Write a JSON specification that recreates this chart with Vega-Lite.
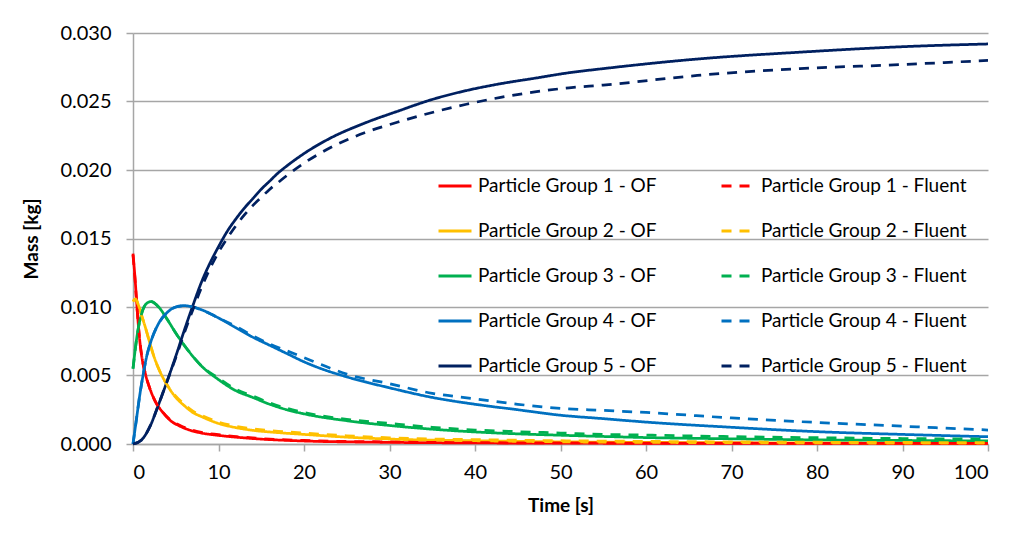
{
  "$schema": "https://vega.github.io/schema/vega-lite/v6.json",
  "width": 855,
  "height": 411,
  "autosize": {"type": "none"},
  "padding": {"left": 133, "top": 33, "right": 21, "bottom": 90},
  "background": "white",
  "config": {
    "font": "Lato",
    "view": {"stroke": null},
    "axis": {"labelFont": "Lato", "titleFont": "Lato", "labelColor": "#000000", "titleColor": "#000000"}
  },
  "data": {
    "values": [
      {"t": 0, "s": "Particle Group 1 - OF", "m": 0.0139},
      {"t": 0.25, "s": "Particle Group 1 - OF", "m": 0.0120},
      {"t": 0.5, "s": "Particle Group 1 - OF", "m": 0.0097},
      {"t": 0.75, "s": "Particle Group 1 - OF", "m": 0.0078},
      {"t": 1, "s": "Particle Group 1 - OF", "m": 0.0065},
      {"t": 1.5, "s": "Particle Group 1 - OF", "m": 0.0050},
      {"t": 2, "s": "Particle Group 1 - OF", "m": 0.0040},
      {"t": 2.7, "s": "Particle Group 1 - OF", "m": 0.0030},
      {"t": 3.5, "s": "Particle Group 1 - OF", "m": 0.0023},
      {"t": 4.3, "s": "Particle Group 1 - OF", "m": 0.00175},
      {"t": 5.5, "s": "Particle Group 1 - OF", "m": 0.0013},
      {"t": 6.7, "s": "Particle Group 1 - OF", "m": 0.0010},
      {"t": 8, "s": "Particle Group 1 - OF", "m": 0.0008},
      {"t": 10, "s": "Particle Group 1 - OF", "m": 0.00063},
      {"t": 14, "s": "Particle Group 1 - OF", "m": 0.0004},
      {"t": 20, "s": "Particle Group 1 - OF", "m": 0.00022},
      {"t": 30, "s": "Particle Group 1 - OF", "m": 0.00012},
      {"t": 40, "s": "Particle Group 1 - OF", "m": 0.00008},
      {"t": 60, "s": "Particle Group 1 - OF", "m": 0.00005},
      {"t": 80, "s": "Particle Group 1 - OF", "m": 0.00004},
      {"t": 100, "s": "Particle Group 1 - OF", "m": 0.00003},

      {"t": 0, "s": "Particle Group 2 - OF", "m": 0.0104},
      {"t": 0.3, "s": "Particle Group 2 - OF", "m": 0.0106},
      {"t": 0.6, "s": "Particle Group 2 - OF", "m": 0.0102},
      {"t": 1, "s": "Particle Group 2 - OF", "m": 0.0094},
      {"t": 1.5, "s": "Particle Group 2 - OF", "m": 0.0084},
      {"t": 2, "s": "Particle Group 2 - OF", "m": 0.0073},
      {"t": 2.5, "s": "Particle Group 2 - OF", "m": 0.0063},
      {"t": 3, "s": "Particle Group 2 - OF", "m": 0.0055},
      {"t": 4, "s": "Particle Group 2 - OF", "m": 0.0043},
      {"t": 5, "s": "Particle Group 2 - OF", "m": 0.0034},
      {"t": 6, "s": "Particle Group 2 - OF", "m": 0.0028},
      {"t": 7, "s": "Particle Group 2 - OF", "m": 0.0023},
      {"t": 8, "s": "Particle Group 2 - OF", "m": 0.0020},
      {"t": 10, "s": "Particle Group 2 - OF", "m": 0.0015},
      {"t": 12, "s": "Particle Group 2 - OF", "m": 0.0012},
      {"t": 14, "s": "Particle Group 2 - OF", "m": 0.0010},
      {"t": 17, "s": "Particle Group 2 - OF", "m": 0.00083},
      {"t": 20, "s": "Particle Group 2 - OF", "m": 0.0007},
      {"t": 25, "s": "Particle Group 2 - OF", "m": 0.0005},
      {"t": 30, "s": "Particle Group 2 - OF", "m": 0.00036},
      {"t": 40, "s": "Particle Group 2 - OF", "m": 0.00024},
      {"t": 50, "s": "Particle Group 2 - OF", "m": 0.00016},
      {"t": 60, "s": "Particle Group 2 - OF", "m": 0.00012},
      {"t": 80, "s": "Particle Group 2 - OF", "m": 0.00008},
      {"t": 100, "s": "Particle Group 2 - OF", "m": 0.00006},

      {"t": 0, "s": "Particle Group 3 - OF", "m": 0.0055},
      {"t": 0.5, "s": "Particle Group 3 - OF", "m": 0.0080},
      {"t": 1, "s": "Particle Group 3 - OF", "m": 0.0095},
      {"t": 1.5, "s": "Particle Group 3 - OF", "m": 0.0102},
      {"t": 2.1, "s": "Particle Group 3 - OF", "m": 0.0104},
      {"t": 3, "s": "Particle Group 3 - OF", "m": 0.0100},
      {"t": 4, "s": "Particle Group 3 - OF", "m": 0.0091},
      {"t": 5, "s": "Particle Group 3 - OF", "m": 0.0081},
      {"t": 6, "s": "Particle Group 3 - OF", "m": 0.0072},
      {"t": 7, "s": "Particle Group 3 - OF", "m": 0.0064},
      {"t": 8, "s": "Particle Group 3 - OF", "m": 0.0057},
      {"t": 10, "s": "Particle Group 3 - OF", "m": 0.0047},
      {"t": 12, "s": "Particle Group 3 - OF", "m": 0.0039},
      {"t": 14, "s": "Particle Group 3 - OF", "m": 0.0034},
      {"t": 16, "s": "Particle Group 3 - OF", "m": 0.0029},
      {"t": 18, "s": "Particle Group 3 - OF", "m": 0.0025},
      {"t": 20, "s": "Particle Group 3 - OF", "m": 0.0022},
      {"t": 25, "s": "Particle Group 3 - OF", "m": 0.0017},
      {"t": 30, "s": "Particle Group 3 - OF", "m": 0.00135},
      {"t": 35, "s": "Particle Group 3 - OF", "m": 0.00108},
      {"t": 40, "s": "Particle Group 3 - OF", "m": 0.00088},
      {"t": 45, "s": "Particle Group 3 - OF", "m": 0.00074},
      {"t": 50, "s": "Particle Group 3 - OF", "m": 0.00064},
      {"t": 55, "s": "Particle Group 3 - OF", "m": 0.00055},
      {"t": 60, "s": "Particle Group 3 - OF", "m": 0.00047},
      {"t": 70, "s": "Particle Group 3 - OF", "m": 0.00038},
      {"t": 80, "s": "Particle Group 3 - OF", "m": 0.0003},
      {"t": 90, "s": "Particle Group 3 - OF", "m": 0.00026},
      {"t": 100, "s": "Particle Group 3 - OF", "m": 0.00022},

      {"t": 0, "s": "Particle Group 4 - OF", "m": 0},
      {"t": 0.4, "s": "Particle Group 4 - OF", "m": 0.0018},
      {"t": 0.8, "s": "Particle Group 4 - OF", "m": 0.0036},
      {"t": 1.2, "s": "Particle Group 4 - OF", "m": 0.0051},
      {"t": 1.6, "s": "Particle Group 4 - OF", "m": 0.0064},
      {"t": 2, "s": "Particle Group 4 - OF", "m": 0.0073},
      {"t": 3, "s": "Particle Group 4 - OF", "m": 0.0088},
      {"t": 4, "s": "Particle Group 4 - OF", "m": 0.0096},
      {"t": 5, "s": "Particle Group 4 - OF", "m": 0.0100},
      {"t": 6, "s": "Particle Group 4 - OF", "m": 0.0101},
      {"t": 7, "s": "Particle Group 4 - OF", "m": 0.0100},
      {"t": 8, "s": "Particle Group 4 - OF", "m": 0.0098},
      {"t": 10, "s": "Particle Group 4 - OF", "m": 0.0092},
      {"t": 12, "s": "Particle Group 4 - OF", "m": 0.0085},
      {"t": 14, "s": "Particle Group 4 - OF", "m": 0.0078},
      {"t": 16, "s": "Particle Group 4 - OF", "m": 0.0072},
      {"t": 18, "s": "Particle Group 4 - OF", "m": 0.0066},
      {"t": 20, "s": "Particle Group 4 - OF", "m": 0.0060},
      {"t": 22, "s": "Particle Group 4 - OF", "m": 0.0055},
      {"t": 25, "s": "Particle Group 4 - OF", "m": 0.0049},
      {"t": 30, "s": "Particle Group 4 - OF", "m": 0.0041},
      {"t": 35, "s": "Particle Group 4 - OF", "m": 0.0034},
      {"t": 40, "s": "Particle Group 4 - OF", "m": 0.0029},
      {"t": 45, "s": "Particle Group 4 - OF", "m": 0.0025},
      {"t": 50, "s": "Particle Group 4 - OF", "m": 0.0021},
      {"t": 55, "s": "Particle Group 4 - OF", "m": 0.00185},
      {"t": 60, "s": "Particle Group 4 - OF", "m": 0.0016},
      {"t": 70, "s": "Particle Group 4 - OF", "m": 0.00122},
      {"t": 80, "s": "Particle Group 4 - OF", "m": 0.0009},
      {"t": 90, "s": "Particle Group 4 - OF", "m": 0.0007},
      {"t": 100, "s": "Particle Group 4 - OF", "m": 0.00053},

      {"t": 0, "s": "Particle Group 5 - OF", "m": 0},
      {"t": 1, "s": "Particle Group 5 - OF", "m": 0.0003},
      {"t": 2, "s": "Particle Group 5 - OF", "m": 0.0013},
      {"t": 3, "s": "Particle Group 5 - OF", "m": 0.0029},
      {"t": 4, "s": "Particle Group 5 - OF", "m": 0.0046},
      {"t": 5, "s": "Particle Group 5 - OF", "m": 0.0064},
      {"t": 6, "s": "Particle Group 5 - OF", "m": 0.0083},
      {"t": 7, "s": "Particle Group 5 - OF", "m": 0.0101},
      {"t": 8, "s": "Particle Group 5 - OF", "m": 0.0118},
      {"t": 9, "s": "Particle Group 5 - OF", "m": 0.0132},
      {"t": 10, "s": "Particle Group 5 - OF", "m": 0.0144},
      {"t": 11, "s": "Particle Group 5 - OF", "m": 0.0155},
      {"t": 12, "s": "Particle Group 5 - OF", "m": 0.0164},
      {"t": 13, "s": "Particle Group 5 - OF", "m": 0.0172},
      {"t": 14, "s": "Particle Group 5 - OF", "m": 0.0179},
      {"t": 15, "s": "Particle Group 5 - OF", "m": 0.0186},
      {"t": 16, "s": "Particle Group 5 - OF", "m": 0.0192},
      {"t": 17, "s": "Particle Group 5 - OF", "m": 0.0198},
      {"t": 18, "s": "Particle Group 5 - OF", "m": 0.0203},
      {"t": 20, "s": "Particle Group 5 - OF", "m": 0.0212},
      {"t": 23, "s": "Particle Group 5 - OF", "m": 0.0223},
      {"t": 27, "s": "Particle Group 5 - OF", "m": 0.0234},
      {"t": 31, "s": "Particle Group 5 - OF", "m": 0.0243},
      {"t": 35, "s": "Particle Group 5 - OF", "m": 0.02515},
      {"t": 39, "s": "Particle Group 5 - OF", "m": 0.0258},
      {"t": 43, "s": "Particle Group 5 - OF", "m": 0.0263},
      {"t": 47, "s": "Particle Group 5 - OF", "m": 0.0267},
      {"t": 51, "s": "Particle Group 5 - OF", "m": 0.0271},
      {"t": 55, "s": "Particle Group 5 - OF", "m": 0.0274},
      {"t": 66, "s": "Particle Group 5 - OF", "m": 0.0281},
      {"t": 78, "s": "Particle Group 5 - OF", "m": 0.0286},
      {"t": 90, "s": "Particle Group 5 - OF", "m": 0.0290},
      {"t": 100, "s": "Particle Group 5 - OF", "m": 0.0292},

      {"t": 0, "s": "Particle Group 1 - Fluent", "m": 0.0138},
      {"t": 0.25, "s": "Particle Group 1 - Fluent", "m": 0.0119},
      {"t": 0.5, "s": "Particle Group 1 - Fluent", "m": 0.0097},
      {"t": 0.75, "s": "Particle Group 1 - Fluent", "m": 0.0078},
      {"t": 1, "s": "Particle Group 1 - Fluent", "m": 0.0065},
      {"t": 1.5, "s": "Particle Group 1 - Fluent", "m": 0.0050},
      {"t": 2, "s": "Particle Group 1 - Fluent", "m": 0.0040},
      {"t": 2.7, "s": "Particle Group 1 - Fluent", "m": 0.0030},
      {"t": 3.5, "s": "Particle Group 1 - Fluent", "m": 0.0023},
      {"t": 4.3, "s": "Particle Group 1 - Fluent", "m": 0.0018},
      {"t": 5.5, "s": "Particle Group 1 - Fluent", "m": 0.00135},
      {"t": 6.7, "s": "Particle Group 1 - Fluent", "m": 0.00105},
      {"t": 8, "s": "Particle Group 1 - Fluent", "m": 0.00085},
      {"t": 10, "s": "Particle Group 1 - Fluent", "m": 0.00068},
      {"t": 14, "s": "Particle Group 1 - Fluent", "m": 0.00044},
      {"t": 20, "s": "Particle Group 1 - Fluent", "m": 0.00026},
      {"t": 30, "s": "Particle Group 1 - Fluent", "m": 0.00015},
      {"t": 40, "s": "Particle Group 1 - Fluent", "m": 0.0001},
      {"t": 60, "s": "Particle Group 1 - Fluent", "m": 0.00007},
      {"t": 80, "s": "Particle Group 1 - Fluent", "m": 0.00005},
      {"t": 100, "s": "Particle Group 1 - Fluent", "m": 0.00004},

      {"t": 0, "s": "Particle Group 2 - Fluent", "m": 0.0104},
      {"t": 0.3, "s": "Particle Group 2 - Fluent", "m": 0.0106},
      {"t": 0.6, "s": "Particle Group 2 - Fluent", "m": 0.0102},
      {"t": 1, "s": "Particle Group 2 - Fluent", "m": 0.0094},
      {"t": 1.5, "s": "Particle Group 2 - Fluent", "m": 0.0084},
      {"t": 2, "s": "Particle Group 2 - Fluent", "m": 0.0073},
      {"t": 2.5, "s": "Particle Group 2 - Fluent", "m": 0.0063},
      {"t": 3, "s": "Particle Group 2 - Fluent", "m": 0.0055},
      {"t": 4, "s": "Particle Group 2 - Fluent", "m": 0.0043},
      {"t": 5, "s": "Particle Group 2 - Fluent", "m": 0.0035},
      {"t": 6, "s": "Particle Group 2 - Fluent", "m": 0.0029},
      {"t": 7, "s": "Particle Group 2 - Fluent", "m": 0.0024},
      {"t": 8, "s": "Particle Group 2 - Fluent", "m": 0.0021},
      {"t": 10, "s": "Particle Group 2 - Fluent", "m": 0.0016},
      {"t": 12, "s": "Particle Group 2 - Fluent", "m": 0.0013},
      {"t": 14, "s": "Particle Group 2 - Fluent", "m": 0.0011},
      {"t": 17, "s": "Particle Group 2 - Fluent", "m": 0.00093},
      {"t": 20, "s": "Particle Group 2 - Fluent", "m": 0.0008},
      {"t": 25, "s": "Particle Group 2 - Fluent", "m": 0.0006},
      {"t": 30, "s": "Particle Group 2 - Fluent", "m": 0.00045},
      {"t": 40, "s": "Particle Group 2 - Fluent", "m": 0.00032},
      {"t": 50, "s": "Particle Group 2 - Fluent", "m": 0.00024},
      {"t": 60, "s": "Particle Group 2 - Fluent", "m": 0.00019},
      {"t": 80, "s": "Particle Group 2 - Fluent", "m": 0.00013},
      {"t": 100, "s": "Particle Group 2 - Fluent", "m": 0.0001},

      {"t": 0, "s": "Particle Group 3 - Fluent", "m": 0.0055},
      {"t": 0.5, "s": "Particle Group 3 - Fluent", "m": 0.0080},
      {"t": 1, "s": "Particle Group 3 - Fluent", "m": 0.0095},
      {"t": 1.5, "s": "Particle Group 3 - Fluent", "m": 0.0102},
      {"t": 2.1, "s": "Particle Group 3 - Fluent", "m": 0.0104},
      {"t": 3, "s": "Particle Group 3 - Fluent", "m": 0.0100},
      {"t": 4, "s": "Particle Group 3 - Fluent", "m": 0.0091},
      {"t": 5, "s": "Particle Group 3 - Fluent", "m": 0.0081},
      {"t": 6, "s": "Particle Group 3 - Fluent", "m": 0.0072},
      {"t": 7, "s": "Particle Group 3 - Fluent", "m": 0.0064},
      {"t": 8, "s": "Particle Group 3 - Fluent", "m": 0.0057},
      {"t": 10, "s": "Particle Group 3 - Fluent", "m": 0.0048},
      {"t": 12, "s": "Particle Group 3 - Fluent", "m": 0.0040},
      {"t": 14, "s": "Particle Group 3 - Fluent", "m": 0.0035},
      {"t": 16, "s": "Particle Group 3 - Fluent", "m": 0.0030},
      {"t": 18, "s": "Particle Group 3 - Fluent", "m": 0.0026},
      {"t": 20, "s": "Particle Group 3 - Fluent", "m": 0.0023},
      {"t": 25, "s": "Particle Group 3 - Fluent", "m": 0.0018},
      {"t": 30, "s": "Particle Group 3 - Fluent", "m": 0.0015},
      {"t": 35, "s": "Particle Group 3 - Fluent", "m": 0.00122},
      {"t": 40, "s": "Particle Group 3 - Fluent", "m": 0.00102},
      {"t": 45, "s": "Particle Group 3 - Fluent", "m": 0.0009},
      {"t": 50, "s": "Particle Group 3 - Fluent", "m": 0.0008},
      {"t": 55, "s": "Particle Group 3 - Fluent", "m": 0.0007},
      {"t": 60, "s": "Particle Group 3 - Fluent", "m": 0.00065},
      {"t": 70, "s": "Particle Group 3 - Fluent", "m": 0.00054},
      {"t": 80, "s": "Particle Group 3 - Fluent", "m": 0.00046},
      {"t": 90, "s": "Particle Group 3 - Fluent", "m": 0.0004},
      {"t": 100, "s": "Particle Group 3 - Fluent", "m": 0.00036},

      {"t": 0, "s": "Particle Group 4 - Fluent", "m": 0},
      {"t": 0.4, "s": "Particle Group 4 - Fluent", "m": 0.0018},
      {"t": 0.8, "s": "Particle Group 4 - Fluent", "m": 0.0036},
      {"t": 1.2, "s": "Particle Group 4 - Fluent", "m": 0.0051},
      {"t": 1.6, "s": "Particle Group 4 - Fluent", "m": 0.0064},
      {"t": 2, "s": "Particle Group 4 - Fluent", "m": 0.0073},
      {"t": 3, "s": "Particle Group 4 - Fluent", "m": 0.0088},
      {"t": 4, "s": "Particle Group 4 - Fluent", "m": 0.0096},
      {"t": 5, "s": "Particle Group 4 - Fluent", "m": 0.0100},
      {"t": 6, "s": "Particle Group 4 - Fluent", "m": 0.0101},
      {"t": 7, "s": "Particle Group 4 - Fluent", "m": 0.0100},
      {"t": 8, "s": "Particle Group 4 - Fluent", "m": 0.0098},
      {"t": 10, "s": "Particle Group 4 - Fluent", "m": 0.0092},
      {"t": 12, "s": "Particle Group 4 - Fluent", "m": 0.0086},
      {"t": 14, "s": "Particle Group 4 - Fluent", "m": 0.0079},
      {"t": 16, "s": "Particle Group 4 - Fluent", "m": 0.0073},
      {"t": 18, "s": "Particle Group 4 - Fluent", "m": 0.0068},
      {"t": 20, "s": "Particle Group 4 - Fluent", "m": 0.0063},
      {"t": 22, "s": "Particle Group 4 - Fluent", "m": 0.0058},
      {"t": 25, "s": "Particle Group 4 - Fluent", "m": 0.0051},
      {"t": 30, "s": "Particle Group 4 - Fluent", "m": 0.0044},
      {"t": 35, "s": "Particle Group 4 - Fluent", "m": 0.0037},
      {"t": 40, "s": "Particle Group 4 - Fluent", "m": 0.0033},
      {"t": 45, "s": "Particle Group 4 - Fluent", "m": 0.0029},
      {"t": 50, "s": "Particle Group 4 - Fluent", "m": 0.0026},
      {"t": 55, "s": "Particle Group 4 - Fluent", "m": 0.00245},
      {"t": 60, "s": "Particle Group 4 - Fluent", "m": 0.0023},
      {"t": 70, "s": "Particle Group 4 - Fluent", "m": 0.0019},
      {"t": 80, "s": "Particle Group 4 - Fluent", "m": 0.00157},
      {"t": 90, "s": "Particle Group 4 - Fluent", "m": 0.0013},
      {"t": 100, "s": "Particle Group 4 - Fluent", "m": 0.00102},

      {"t": 0, "s": "Particle Group 5 - Fluent", "m": 0},
      {"t": 1, "s": "Particle Group 5 - Fluent", "m": 0.0003},
      {"t": 2, "s": "Particle Group 5 - Fluent", "m": 0.0013},
      {"t": 3, "s": "Particle Group 5 - Fluent", "m": 0.0029},
      {"t": 4, "s": "Particle Group 5 - Fluent", "m": 0.0046},
      {"t": 5, "s": "Particle Group 5 - Fluent", "m": 0.0063},
      {"t": 6, "s": "Particle Group 5 - Fluent", "m": 0.0081},
      {"t": 7, "s": "Particle Group 5 - Fluent", "m": 0.0098},
      {"t": 8, "s": "Particle Group 5 - Fluent", "m": 0.0114},
      {"t": 9, "s": "Particle Group 5 - Fluent", "m": 0.0128},
      {"t": 10, "s": "Particle Group 5 - Fluent", "m": 0.0140},
      {"t": 11, "s": "Particle Group 5 - Fluent", "m": 0.0150},
      {"t": 12, "s": "Particle Group 5 - Fluent", "m": 0.0159},
      {"t": 13, "s": "Particle Group 5 - Fluent", "m": 0.0167},
      {"t": 14, "s": "Particle Group 5 - Fluent", "m": 0.0174},
      {"t": 15, "s": "Particle Group 5 - Fluent", "m": 0.0180},
      {"t": 16, "s": "Particle Group 5 - Fluent", "m": 0.0186},
      {"t": 17, "s": "Particle Group 5 - Fluent", "m": 0.0191},
      {"t": 18, "s": "Particle Group 5 - Fluent", "m": 0.0196},
      {"t": 20, "s": "Particle Group 5 - Fluent", "m": 0.0205},
      {"t": 23, "s": "Particle Group 5 - Fluent", "m": 0.0216},
      {"t": 27, "s": "Particle Group 5 - Fluent", "m": 0.0227},
      {"t": 31, "s": "Particle Group 5 - Fluent", "m": 0.0235},
      {"t": 35, "s": "Particle Group 5 - Fluent", "m": 0.0242},
      {"t": 39, "s": "Particle Group 5 - Fluent", "m": 0.0248},
      {"t": 43, "s": "Particle Group 5 - Fluent", "m": 0.0253},
      {"t": 47, "s": "Particle Group 5 - Fluent", "m": 0.0257},
      {"t": 51, "s": "Particle Group 5 - Fluent", "m": 0.0260},
      {"t": 55, "s": "Particle Group 5 - Fluent", "m": 0.0262},
      {"t": 66, "s": "Particle Group 5 - Fluent", "m": 0.0269},
      {"t": 78, "s": "Particle Group 5 - Fluent", "m": 0.0274},
      {"t": 90, "s": "Particle Group 5 - Fluent", "m": 0.0277},
      {"t": 100, "s": "Particle Group 5 - Fluent", "m": 0.0280}
    ]
  },
  "mark": {"type": "line", "interpolate": "monotone", "strokeWidth": 2.75, "strokeCap": "butt"},
  "encoding": {
    "x": {
      "field": "t", "type": "quantitative",
      "scale": {"domain": [0, 100], "nice": false},
      "axis": {
        "title": "Time [s]", "titleFontSize": 19, "titleFontWeight": "bold", "titlePadding": 14,
        "values": [0, 10, 20, 30, 40, 50, 60, 70, 80, 90, 100],
        "labelFontSize": 20, "labelPadding": 11, "grid": false,
        "domainColor": "#a6a6a6", "tickColor": "#a6a6a6", "tickSize": 7, "domainWidth": 1.5, "tickWidth": 1.5
      }
    },
    "y": {
      "field": "m", "type": "quantitative",
      "scale": {"domain": [0, 0.03], "nice": false},
      "axis": {
        "title": "Mass [kg]", "titleFontSize": 19, "titleFontWeight": "bold", "titlePadding": 18,
        "values": [0, 0.005, 0.01, 0.015, 0.02, 0.025, 0.03], "format": ".3f",
        "labelFontSize": 20, "labelPadding": 15, "grid": true, "gridColor": "#a6a6a6", "gridWidth": 1.5,
        "domainColor": "#a6a6a6", "tickColor": "#a6a6a6", "tickSize": 7, "domainWidth": 1.5, "tickWidth": 1.5
      }
    },
    "color": {
      "field": "s", "type": "nominal",
      "scale": {
        "domain": ["Particle Group 1 - OF", "Particle Group 2 - OF", "Particle Group 3 - OF", "Particle Group 4 - OF", "Particle Group 5 - OF", "Particle Group 1 - Fluent", "Particle Group 2 - Fluent", "Particle Group 3 - Fluent", "Particle Group 4 - Fluent", "Particle Group 5 - Fluent"],
        "range": ["#FF0000", "#FFC000", "#00B050", "#0070C0", "#002060", "#FF0000", "#FFC000", "#00B050", "#0070C0", "#002060"]
      },
      "legend": {
        "title": null, "orient": "none", "legendX": 304, "legendY": 135, "columns": 2,
        "columnPadding": 58, "rowPadding": 17, "labelFontSize": 19, "labelFont": "Lato", "labelColor": "#000000",
        "symbolType": "stroke", "symbolSize": 1089, "symbolStrokeWidth": 3, "labelOffset": 5, "labelLimit": 400
      }
    },
    "strokeDash": {
      "field": "s", "type": "nominal",
      "scale": {
        "domain": ["Particle Group 1 - OF", "Particle Group 2 - OF", "Particle Group 3 - OF", "Particle Group 4 - OF", "Particle Group 5 - OF", "Particle Group 1 - Fluent", "Particle Group 2 - Fluent", "Particle Group 3 - Fluent", "Particle Group 4 - Fluent", "Particle Group 5 - Fluent"],
        "range": [[1, 0], [1, 0], [1, 0], [1, 0], [1, 0], [10, 8], [10, 8], [10, 8], [10, 8], [10, 8]]
      },
      "legend": {
        "title": null, "orient": "none", "legendX": 304, "legendY": 135, "columns": 2,
        "columnPadding": 58, "rowPadding": 17, "labelFontSize": 19, "labelFont": "Lato", "labelColor": "#000000",
        "symbolType": "stroke", "symbolSize": 1089, "symbolStrokeWidth": 3, "labelOffset": 5, "labelLimit": 400
      }
    }
  }
}
